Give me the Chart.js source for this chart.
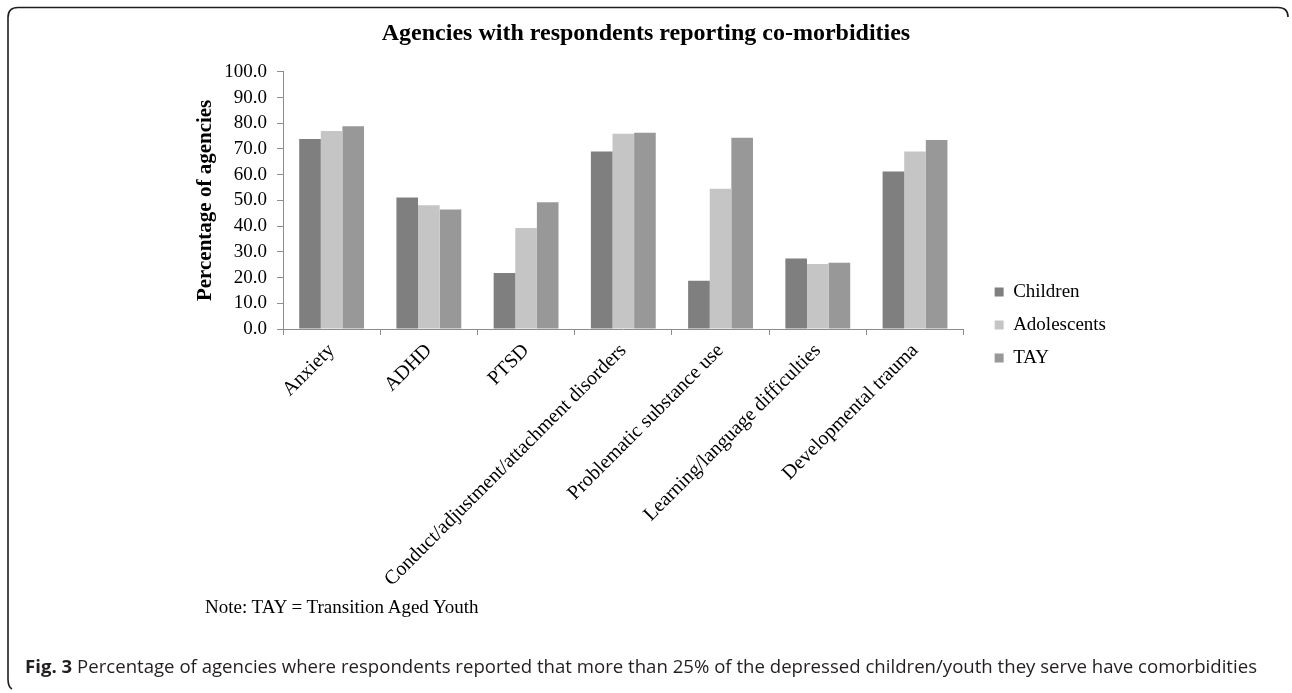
<!DOCTYPE html>
<html>
<head>
<meta charset="utf-8">
<script src="https://cdn.jsdelivr.net/npm/chart.js@4.4.1/dist/chart.umd.min.js"></script>
<style>
  html, body { margin: 0; padding: 0; background: #ffffff; }
  #wrap { position: relative; width: 1292px; height: 693px; overflow: hidden; background: #ffffff; }
  #chart { position: absolute; left: 0; top: 0; }
  #frame { position: absolute; left: 0; top: 0; }
  #note {
    position: absolute; left: 205px; top: 595px;
    font-family: "Liberation Serif", "Times New Roman", serif; font-size: 19px; color: #000;
    white-space: nowrap; line-height: 24px;
  }
  #caption {
    position: absolute; left: 25px; top: 654px;
    font-family: "Open Sans", "Noto Sans", sans-serif; font-size: 18px; color: #231f20;
    white-space: nowrap; line-height: 24px; transform-origin: 0 50%;
  }
  #caption b { font-weight: 700; }
</style>
</head>
<body>
<div id="wrap">
  <canvas id="chart" width="1292" height="693"></canvas>
  <svg id="frame" width="1292" height="693">
    <path d="M 1288 17 Q 1288 7.5 1278 7.5 L 18 7.5 Q 8 7.5 8 17.5 L 8 679 Q 8 687 12 689"
          fill="none" stroke="#1e1e1e" stroke-width="1.6"/>
  </svg>
  <div id="note">Note: TAY = Transition Aged Youth</div>
  <div id="caption"><b>Fig. 3</b> Percentage of agencies where respondents reported that more than 25% of the depressed children/youth they serve have comorbidities</div>
</div>
<script>
// Co-morbidity categories and the share of agencies (%) reporting each, per age group
const categories = [
  'Anxiety',
  'ADHD',
  'PTSD',
  'Conduct/adjustment/attachment disorders',
  'Problematic substance use',
  'Learning/language difficulties',
  'Developmental trauma'
];
const children    = [73.9, 51.1, 21.8, 69.0, 18.8, 27.4, 61.2];
const adolescents = [77.0, 48.1, 39.3, 75.9, 54.5, 25.3, 69.0];
const tay         = [78.8, 46.5, 49.3, 76.3, 74.4, 25.8, 73.5];

const seriesNames  = ['Children', 'Adolescents', 'TAY'];
const seriesColors = ['#7f7f7f', '#c5c5c5', '#989898'];

const yMin = 0, yMax = 100, yStep = 10;

const serif = '"Liberation Serif", "Times New Roman", serif';
const axisColor = '#8c8c8c';

const seriesValues = [children, adolescents, tay];
const datasets = seriesNames.map((name, i) => ({
  label: name,
  data: seriesValues[i],
  backgroundColor: seriesColors[i],
  borderWidth: 0,
  categoryPercentage: 0.667,
  barPercentage: 1.0
}));

new Chart(document.getElementById('chart'), {
  type: 'bar',
  data: { labels: categories, datasets },
  options: {
    responsive: false,
    animation: false,
    devicePixelRatio: 1,
    layout: { padding: { left: 176, right: 176, top: 0, bottom: 43 } },
    plugins: {
      title: {
        display: true,
        text: 'Agencies with respondents reporting co-morbidities',
        color: '#000',
        font: { family: serif, size: 24, weight: 'bold' },
        padding: { top: 19, bottom: 24 }
      },
      legend: {
        display: true,
        position: 'right',
        align: 'center',
        labels: {
          color: '#000',
          font: { family: serif, size: 19 },
          boxWidth: 9,
          boxHeight: 9,
          padding: 14
        }
      },
      tooltip: { enabled: false }
    },
    scales: {
      x: {
        type: 'category',
        grid: {
          display: true,
          drawOnChartArea: false,
          drawTicks: true,
          tickLength: 6,
          color: axisColor,
          offset: true
        },
        border: { display: true, color: axisColor, width: 1 },
        ticks: {
          color: '#000',
          font: { family: serif, size: 20 },
          minRotation: 45,
          maxRotation: 45,
          autoSkip: false,
          padding: 4
        },
        afterFit(scale) { scale.height = 321; }
      },
      y: {
        type: 'linear',
        min: yMin,
        max: yMax,
        grid: {
          display: true,
          drawOnChartArea: false,
          drawTicks: true,
          tickLength: 6,
          color: axisColor
        },
        border: { display: true, color: axisColor, width: 1 },
        ticks: {
          stepSize: yStep,
          autoSkip: false,
          color: '#000',
          font: { family: serif, size: 19 },
          padding: 10,
          callback: (v) => Number(v).toFixed(1)
        },
        title: {
          display: true,
          text: 'Percentage of agencies',
          color: '#000',
          font: { family: serif, size: 21, weight: 'bold' },
          padding: { top: 17, bottom: 0 }
        },
        afterFit(scale) { scale.width = 107; }
      },
      // empty spacer between the plot and the legend
      gap: {
        type: 'linear',
        position: 'right',
        display: true,
        grid: { display: false },
        border: { display: false },
        ticks: { display: false },
        afterFit(scale) { scale.width = 17; }
      }
    }
  }
});

// stretch the caption line to the frame width
const cap = document.getElementById('caption');
const targetWidth = 1232;
const w = cap.getBoundingClientRect().width;
if (w > 0) cap.style.transform = 'scaleX(' + (targetWidth / w) + ')';
</script>
</body>
</html>
